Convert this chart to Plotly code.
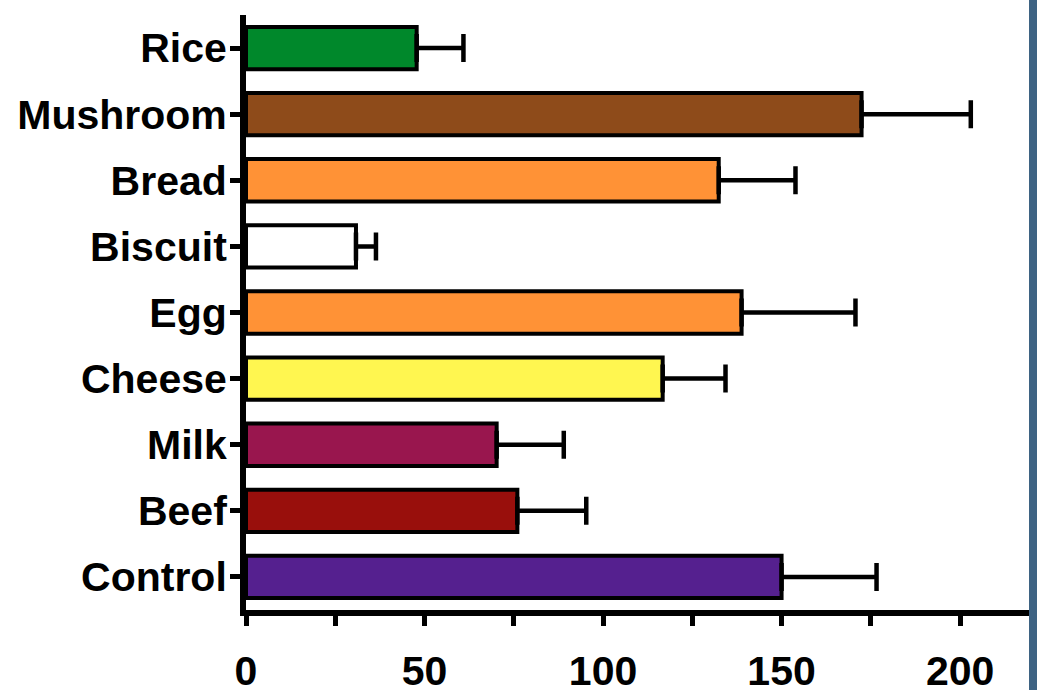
import plotly.graph_objects as go

categories = ["Control", "Beef", "Milk", "Cheese", "Egg", "Biscuit", "Bread", "Mushroom", "Rice"]
values = [150.0, 76.0, 70.2, 116.7, 138.8, 30.8, 132.4, 172.4, 47.8]
errors = [26.6, 19.3, 18.8, 17.6, 31.9, 5.6, 21.5, 30.6, 13.1]
colors = ["#55208F", "#990F0C", "#99164E", "#FFF650", "#FF9236", "#FFFFFF", "#FF9236", "#8E4B1A", "#00882B"]
x_tickvals = [0, 25, 50, 75, 100, 125, 150, 175, 200]
x_ticktext = ["0", "", "50", "", "100", "", "150", "", "200"]

font_family = "Liberation Sans, Arial, sans-serif"

fig = go.Figure()
fig.add_trace(go.Bar(
    y=categories,
    x=values,
    orientation="h",
    width=0.64,
    marker=dict(color=colors, line=dict(color="black", width=4)),
    error_x=dict(
        type="data",
        symmetric=False,
        array=errors,
        arrayminus=[0] * len(errors),
        color="black",
        thickness=4.5,
        width=14,
    ),
    showlegend=False,
))

fig.update_layout(
    width=1037,
    height=690,
    margin=dict(l=246, r=8, t=15, b=80, autoexpand=False),
    paper_bgcolor="white",
    plot_bgcolor="white",
    font=dict(family=font_family, size=41, color="black"),
)

fig.update_xaxes(
    range=[0, 219.3],
    tickvals=x_tickvals,
    ticktext=x_ticktext,
    ticks="outside",
    ticklen=10,
    tickwidth=5,
    tickcolor="black",
    showline=True,
    linecolor="black",
    linewidth=6,
    showgrid=False,
    zeroline=False,
    automargin=False,
    tickfont=dict(family=font_family, size=41, color="black", weight="bold"),
    ticklabelstandoff=10,
)
fig.update_yaxes(
    range=[-0.5, 8.5],
    ticks="outside",
    ticklen=10,
    tickwidth=5,
    tickcolor="black",
    showline=True,
    linecolor="black",
    linewidth=6,
    showgrid=False,
    zeroline=False,
    automargin=False,
    tickfont=dict(family=font_family, size=41, color="black", weight="bold"),
    ticklabelstandoff=-5,
)

fig.add_shape(
    type="rect", xref="paper", yref="paper",
    x0=1.0, x1=1.02, y0=-0.2, y1=1.1,
    fillcolor="#3E6383", line=dict(width=0), layer="above",
)

fig.write_html(
    "out.html",
    config={"displayModeBar": False},
    post_script="document.body.style.margin='0';document.body.style.overflow='hidden';",
)
